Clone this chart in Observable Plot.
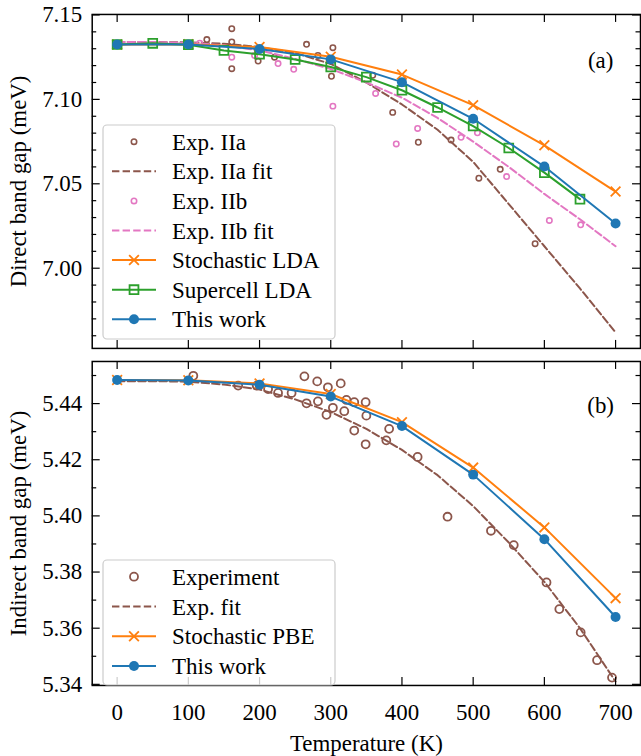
<!DOCTYPE html>
<html><head><meta charset="utf-8">
<script src="https://cdn.jsdelivr.net/npm/d3@7"></script>
<script src="https://cdn.jsdelivr.net/npm/@observablehq/plot@0.6"></script>
<style>
html,body{margin:0;padding:0;background:#fff;}
#chart{position:relative;width:641px;height:756px;overflow:hidden;background:#fff;}
#chart > svg{position:absolute;}
</style></head><body><div id="chart"></div>
<script>
// ---------- data ----------
const tempsCalc = [0, 100, 200, 300, 400, 500, 600, 700];
const directThisWork = [7.1325, 7.1325, 7.1298, 7.1237, 7.1102, 7.0885, 7.0602, 7.0265];
const directStochastic = [7.1325, 7.1326, 7.1310, 7.1252, 7.1147, 7.0966, 7.0728, 7.0454];
const tempsSupercell = [0, 50, 100, 150, 200, 250, 300, 350, 400, 450, 500, 550, 600, 650];
const directSupercell = [7.1325, 7.1332, 7.1324, 7.1290, 7.1267, 7.1236, 7.1192, 7.1132, 7.1054, 7.0952, 7.0842, 7.0712, 7.0566, 7.0409];
const tempsFit = [0, 50, 100, 150, 200, 250, 300, 350, 400, 450, 500, 550, 600, 650, 700];
const directFitIIa = [7.134, 7.134, 7.1337, 7.133, 7.131, 7.1275, 7.121, 7.110, 7.097, 7.082, 7.063, 7.038, 7.013, 6.988, 6.962];
const directFitIIb = [7.134, 7.134, 7.1335, 7.132, 7.129, 7.124, 7.118, 7.110, 7.101, 7.089, 7.075, 7.060, 7.044, 7.029, 7.013];
const expIIaT = [126, 161, 161, 161, 198, 221, 266, 282, 303, 301, 359, 387, 423, 469, 508, 538, 587];
const expIIaE = [7.1354, 7.1419, 7.1340, 7.1182, 7.1227, 7.1250, 7.1326, 7.1260, 7.1306, 7.1137, 7.1143, 7.0923, 7.0746, 7.0759, 7.0533, 7.0586, 7.0145];
const expIIbT = [116, 161, 193, 226, 248, 303, 363, 392, 422, 483, 506, 547, 607, 651];
const expIIbE = [7.1333, 7.1250, 7.1260, 7.1212, 7.1178, 7.0960, 7.1035, 7.0736, 7.0828, 7.0775, 7.0802, 7.0543, 7.0283, 7.0257];

const indirectThisWork = [5.4484, 5.4482, 5.4467, 5.4425, 5.4320, 5.4147, 5.3917, 5.3640];
const indirectStochastic = [5.4484, 5.4483, 5.4472, 5.4434, 5.4334, 5.4172, 5.3959, 5.3707];
const indirectFit = [5.448, 5.448, 5.4478, 5.4468, 5.445, 5.4415, 5.437, 5.431, 5.4235, 5.4145, 5.4035, 5.3905, 5.3765, 5.360, 5.341];
const expT = [107, 170, 196, 212, 226, 245, 263, 266, 281, 282, 296, 294, 303, 314, 319, 322, 333, 333, 349, 350, 349, 382, 378, 422, 464, 525, 557, 603, 621, 651, 674, 695];
const expE = [5.4499, 5.4464, 5.4464, 5.4452, 5.4438, 5.4438, 5.4497, 5.4401, 5.4479, 5.4408, 5.4458, 5.4360, 5.4385, 5.4472, 5.4373, 5.4413, 5.4405, 5.4304, 5.4405, 5.4357, 5.4255, 5.4310, 5.4269, 5.4210, 5.3997, 5.3947, 5.3896, 5.3763, 5.3668, 5.3585, 5.3486, 5.3424];

const xTicks = [0, 100, 200, 300, 400, 500, 600, 700];
const yTicksTop = [7.00, 7.05, 7.10, 7.15];
const yMinorTop = [6.96, 6.97, 6.98, 6.99, 7.01, 7.02, 7.03, 7.04, 7.06, 7.07, 7.08, 7.09, 7.11, 7.12, 7.13, 7.14];
const yTicksBot = [5.34, 5.36, 5.38, 5.40, 5.42, 5.44];
const yMinorBot = [5.35, 5.37, 5.39, 5.41, 5.43, 5.45];

const legendTop = ["Exp. IIa", "Exp. IIa fit", "Exp. IIb", "Exp. IIb fit", "Stochastic LDA", "Supercell LDA", "This work"];
const legendBot = ["Experiment", "Exp. fit", "Stochastic PBE", "This work"];

// ---------- style ----------
const C = {blue: "#1f77b4", orange: "#ff7f0e", green: "#2ca02c", brown: "#8c564b", pink: "#e377c2"};
const FONT = "Liberation Serif";
const FS = 23;
const zip = (xs, ys) => xs.map((t, i) => ({t, v: ys[i]}));

const W = 643, ML = 92, MR = 1;
const frameW = W - ML - MR;

function ticks(yMajor, yMinor, frameH) {
  const s = {stroke: "black", strokeWidth: 1.2};
  return [
    Plot.tickX(xTicks, {x: d => d, insetBottom: frameH - 8, ...s}),
    Plot.tickX(xTicks, {x: d => d, insetTop: frameH - 8, ...s}),
    Plot.tickY(yMajor, {y: d => d, insetRight: frameW - 8, ...s}),
    Plot.tickY(yMajor, {y: d => d, insetLeft: frameW - 8, ...s}),
    Plot.tickY(yMinor, {y: d => d, insetRight: frameW - 4.5, ...s}),
    Plot.tickY(yMinor, {y: d => d, insetLeft: frameW - 4.5, ...s})
  ];
}

const chart = document.getElementById("chart");

// ---------- top panel ----------
const topH = 355, topMT = 14, topMB = 6;
const topPlot = Plot.plot({
  width: W, height: topH,
  marginLeft: ML, marginRight: MR, marginTop: topMT, marginBottom: topMB,
  style: {fontFamily: FONT, fontSize: FS + "px", background: "transparent", overflow: "visible", color: "black"},
  x: {domain: [-35, 735], axis: null},
  y: {domain: [6.9525, 7.1503]},
  marks: [
    Plot.dot(zip(expIIaT, expIIaE), {x: "t", y: "v", r: 2.7, stroke: C.brown, strokeWidth: 1.6, fill: "none"}),
    Plot.line(zip(tempsFit, directFitIIa), {x: "t", y: "v", stroke: C.brown, strokeWidth: 2, strokeDasharray: "7.4,3.2"}),
    Plot.dot(zip(expIIbT, expIIbE), {x: "t", y: "v", r: 2.7, stroke: C.pink, strokeWidth: 1.6, fill: "none"}),
    Plot.line(zip(tempsFit, directFitIIb), {x: "t", y: "v", stroke: C.pink, strokeWidth: 2, strokeDasharray: "7.4,3.2"}),
    Plot.line(zip(tempsCalc, directStochastic), {x: "t", y: "v", stroke: C.orange, strokeWidth: 2}),
    Plot.dot(zip(tempsCalc, directStochastic), {x: "t", y: "v", symbol: "times", r: 4.5, stroke: C.orange, strokeWidth: 1.8}),
    Plot.line(zip(tempsSupercell, directSupercell), {x: "t", y: "v", stroke: C.green, strokeWidth: 2}),
    Plot.dot(zip(tempsSupercell, directSupercell), {x: "t", y: "v", symbol: "square", r: 5, stroke: C.green, strokeWidth: 1.8, fill: "none"}),
    Plot.line(zip(tempsCalc, directThisWork), {x: "t", y: "v", stroke: C.blue, strokeWidth: 2}),
    Plot.dot(zip(tempsCalc, directThisWork), {x: "t", y: "v", r: 5, fill: C.blue}),
    ...ticks(yTicksTop, yMinorTop, topH - topMT - topMB),
    Plot.axisY({ticks: yTicksTop, tickSize: 0, tickPadding: 10, tickFormat: d3.format(".2f"), label: null}),
    Plot.text(["Direct band gap (meV)"], {frameAnchor: "left", dx: -74, rotate: -90, textAnchor: "middle", lineAnchor: "middle", fontSize: FS}),
    Plot.text(["(a)"], {frameAnchor: "top-right", dx: -40, dy: 46, textAnchor: "middle", lineAnchor: "middle", fontSize: FS}),
    Plot.frame({stroke: "black", strokeWidth: 1.5})
  ]
});
topPlot.style.left = "0px"; topPlot.style.top = "0px";
chart.appendChild(topPlot);

// ---------- bottom panel ----------
const botTop = 355, botH = 401, botMT = 6, botMB = 70;
const botPlot = Plot.plot({
  width: W, height: botH,
  marginLeft: ML, marginRight: MR, marginTop: botMT, marginBottom: botMB,
  style: {fontFamily: FONT, fontSize: FS + "px", background: "transparent", overflow: "visible", color: "black"},
  x: {domain: [-35, 735]},
  y: {domain: [5.3396, 5.455]},
  marks: [
    Plot.dot(zip(expT, expE), {x: "t", y: "v", r: 4, stroke: C.brown, strokeWidth: 1.8, fill: "none"}),
    Plot.line(zip(tempsFit, indirectFit), {x: "t", y: "v", stroke: C.brown, strokeWidth: 2, strokeDasharray: "7.4,3.2"}),
    Plot.line(zip(tempsCalc, indirectStochastic), {x: "t", y: "v", stroke: C.orange, strokeWidth: 2}),
    Plot.dot(zip(tempsCalc, indirectStochastic), {x: "t", y: "v", symbol: "times", r: 4.5, stroke: C.orange, strokeWidth: 1.8}),
    Plot.line(zip(tempsCalc, indirectThisWork), {x: "t", y: "v", stroke: C.blue, strokeWidth: 2}),
    Plot.dot(zip(tempsCalc, indirectThisWork), {x: "t", y: "v", r: 5, fill: C.blue}),
    ...ticks(yTicksBot, yMinorBot, botH - botMT - botMB),
    Plot.axisY({ticks: yTicksBot, tickSize: 0, tickPadding: 10, tickFormat: d3.format(".2f"), label: null}),
    Plot.axisX({ticks: xTicks, tickSize: 0, tickPadding: 18, tickFormat: d3.format("d"), label: null}),
    Plot.text(["Indirect band gap (meV)"], {frameAnchor: "left", dx: -74, rotate: -90, textAnchor: "middle", lineAnchor: "middle", fontSize: FS}),
    Plot.text(["Temperature (K)"], {frameAnchor: "bottom", dy: 58, textAnchor: "middle", lineAnchor: "middle", fontSize: FS}),
    Plot.text(["(b)"], {frameAnchor: "top-right", dx: -40, dy: 44, textAnchor: "middle", lineAnchor: "middle", fontSize: FS}),
    Plot.frame({stroke: "black", strokeWidth: 1.5})
  ]
});
botPlot.style.left = "0px"; botPlot.style.top = botTop + "px";
chart.appendChild(botPlot);

// ---------- legends (overlay) ----------
const ov = d3.select(chart).append("svg")
  .attr("width", 641).attr("height", 756)
  .style("left", "0px").style("top", "0px")
  .style("font-family", FONT).style("font-size", FS + "px");

function legend(x0, y0, w, h, rows, labels, styles) {
  const g = ov.append("g");
  g.append("rect").attr("x", x0).attr("y", y0).attr("width", w).attr("height", h)
    .attr("rx", 4).attr("fill", "white").attr("fill-opacity", 0.8)
    .attr("stroke", "#cccccc").attr("stroke-width", 1.2);
  labels.forEach((lab, i) => {
    const y = rows[i], s = styles[i];
    if (s.line) {
      g.append("line").attr("x1", 112).attr("x2", 156).attr("y1", y).attr("y2", y)
        .attr("stroke", s.color).attr("stroke-width", 2)
        .attr("stroke-dasharray", s.dash ? "7.4,3.2" : null);
    }
    if (s.marker) {
      const sym = {circle: d3.symbolCircle, times: d3.symbolTimes, square: d3.symbolSquare}[s.marker];
      const r = s.r;
      g.append("path").attr("transform", `translate(134,${y})`)
        .attr("d", d3.symbol(sym, Math.PI * r * r)())
        .attr("fill", s.fill ? s.color : "none")
        .attr("stroke", s.fill ? "none" : s.color)
        .attr("stroke-width", s.sw || 1.8);
    }
    g.append("text").attr("x", 172).attr("y", y).attr("dy", "0.35em").text(lab);
  });
}

legend(103, 125, 232, 214, [141.7, 171.3, 200.9, 230.5, 260.1, 289.7, 319.3], legendTop, [
  {marker: "circle", r: 2.7, color: C.brown, sw: 1.6},
  {line: true, dash: true, color: C.brown},
  {marker: "circle", r: 2.7, color: C.pink, sw: 1.6},
  {line: true, dash: true, color: C.pink},
  {line: true, marker: "times", r: 4.5, color: C.orange},
  {line: true, marker: "square", r: 5, color: C.green},
  {line: true, marker: "circle", r: 5, color: C.blue, fill: true}
]);
legend(103, 560, 232, 125, [576.7, 606.5, 636.3, 666], legendBot, [
  {marker: "circle", r: 4, color: C.brown},
  {line: true, dash: true, color: C.brown},
  {line: true, marker: "times", r: 4.5, color: C.orange},
  {line: true, marker: "circle", r: 5, color: C.blue, fill: true}
]);
</script></body></html>
